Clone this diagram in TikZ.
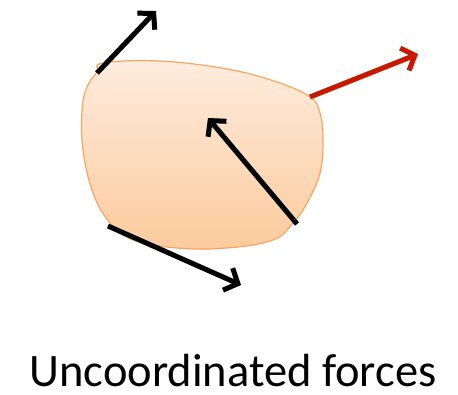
\documentclass[tikz,border=0pt]{standalone}
\usepackage{fontspec}
\setmainfont{Carlito}
\usetikzlibrary{arrows.meta}
\definecolor{blobtop}{RGB}{253,236,222}
\definecolor{blobbot}{RGB}{252,203,157}
\definecolor{blobedge}{RGB}{248,165,95}
\definecolor{forcered}{RGB}{200,24,0}
\tikzset{
  force/.style={line width=5pt, -{Straight Barb[length=11pt,width=24pt,line width=5pt]}},
  shadowforce/.style={line width=5pt, draw=black!18, -{Straight Barb[length=11pt,width=24pt,line width=5pt]}},
}
\begin{document}
\begin{tikzpicture}[x=1pt,y=-1pt]
\useasboundingbox (0,0) rectangle (458,395);
% body
\shade[top color=blobtop, bottom color=blobbot, draw=blobedge, line width=1.2pt]
  plot[smooth cycle, tension=0.65] coordinates {
   (103,63) (160,61) (227,69) (277,82) (310,97) (320,113) (323,140) (320,173)
   (307,203) (293,223) (273,240) (227,248) (177,248) (133,240) (110,223)
   (93,193) (83,150) (82,110) (87,87) (97,72)};
% force end points
\coordinate (tls) at (97,73);
\coordinate (tle) at (156,11);
\coordinate (rs) at (310,97);
\coordinate (re) at (418,54);
\coordinate (cs) at (297,224);
\coordinate (ce) at (208,118);
\coordinate (bs) at (108,226);
\coordinate (be) at (241,285);
% shadows
\begin{scope}[shift={(2,3)}]
\draw[shadowforce] (tls) -- (tle);
\draw[shadowforce] (rs) -- (re);
\draw[shadowforce] (cs) -- (ce);
\draw[shadowforce] (bs) -- (be);
\end{scope}
% forces
\draw[force] (tls) -- (tle);
\draw[force, draw=forcered] (rs) -- (re);
\draw[force] (cs) -- (ce);
\draw[force] (bs) -- (be);
% caption
\node[anchor=base, inner sep=0pt, text depth=0pt, font=\fontsize{46.5}{50}\selectfont] (cap) at (233,387) {Uncoordinated forces};
\end{tikzpicture}
\end{document}
